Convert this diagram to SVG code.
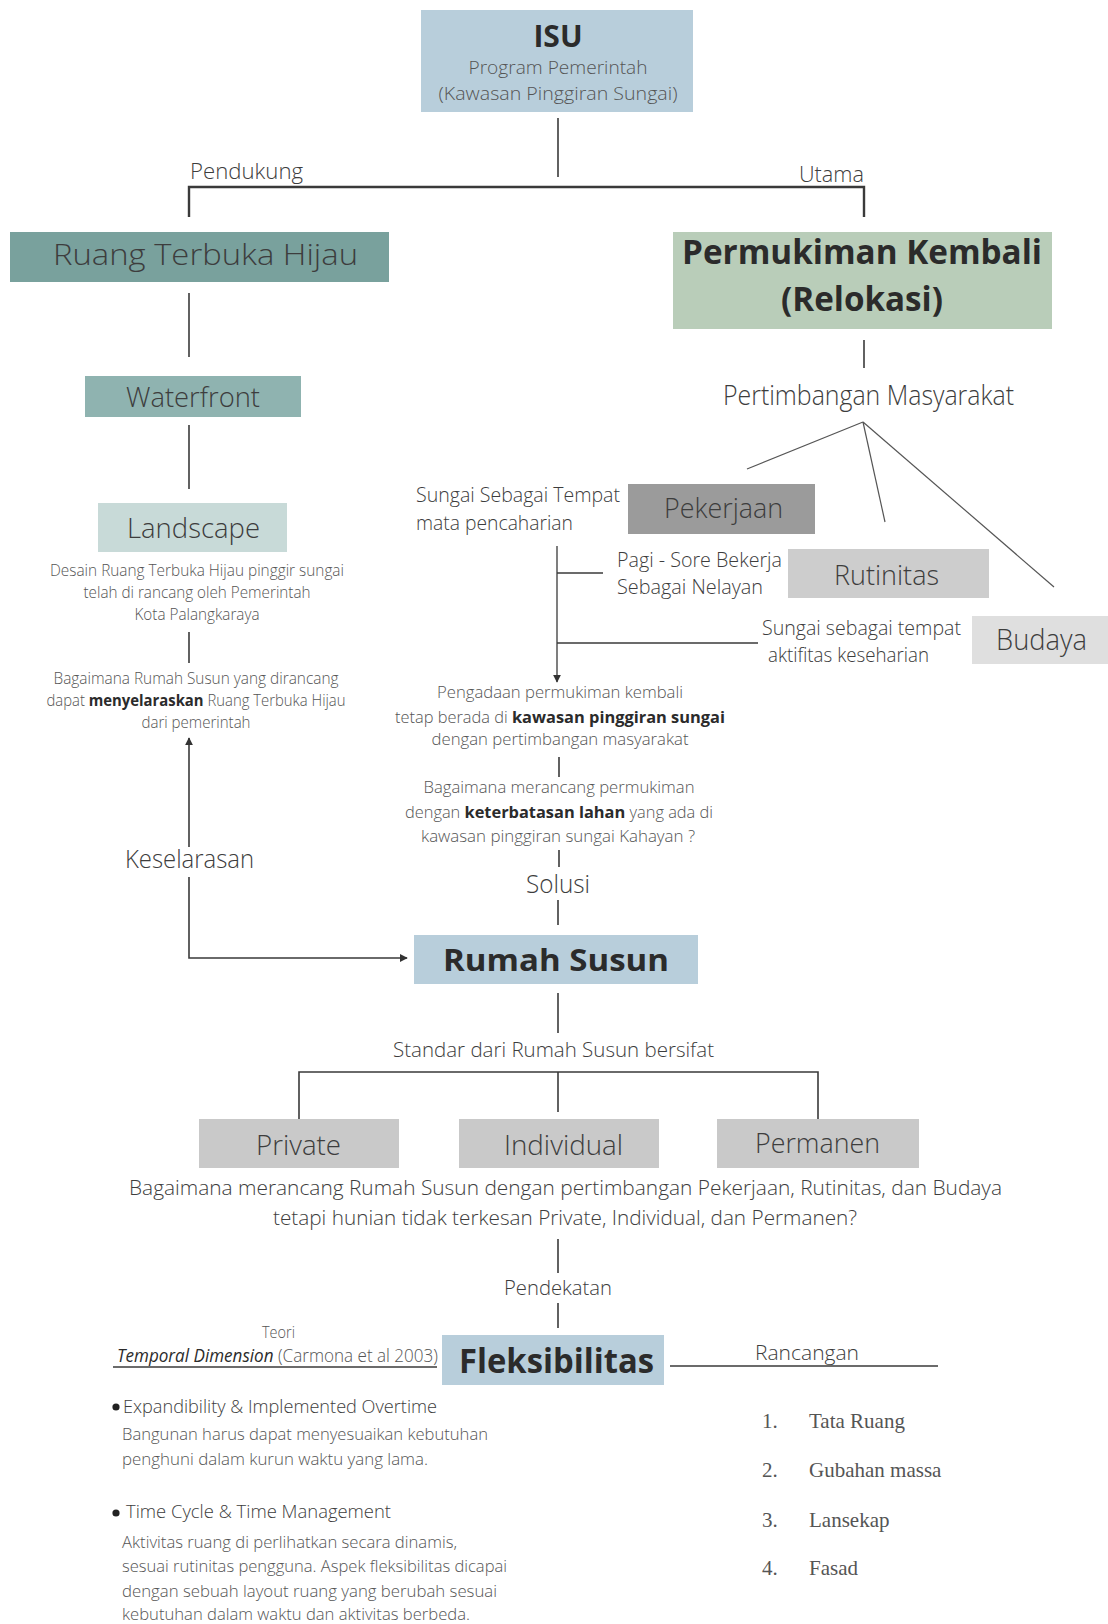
<svg xmlns="http://www.w3.org/2000/svg" width="1108" height="1624" viewBox="0 0 1108 1624">
<style>
.t{font-family:"Open Sans","Noto Sans",sans-serif;font-weight:300;fill:#3d3d3d}
.s{font-family:"Open Sans","Noto Sans",sans-serif;font-weight:300;fill:#555}
.b{font-family:"Open Sans","Noto Sans",sans-serif;font-weight:700;fill:#2b2b2b}
.m{text-anchor:middle}
.r{font-family:"Liberation Serif","Times New Roman",serif;fill:#555;font-size:21px}
.ln{stroke:#3a3a3a;stroke-width:1.6;fill:none}
.thin{stroke:#555;stroke-width:1.2;fill:none}
.blue{fill:#b8cedb}
.grey{fill:#c9c9c9}
</style>
<defs>
<marker id="ah" viewBox="0 0 10 10" refX="9" refY="5" markerWidth="8" markerHeight="8" markerUnits="userSpaceOnUse" orient="auto">
<path d="M0,0 L10,5 L0,10 Z" fill="#333"/>
</marker>
</defs>

<g id="connectors">
<line class="ln" x1="558" y1="118" x2="558" y2="177"/>
<polyline class="ln" style="stroke-width:2.4" points="189,217 189,187 864,187 864,217"/>
<line class="ln" x1="189" y1="293" x2="189" y2="357"/>
<line class="ln" x1="189" y1="425" x2="189" y2="489"/>
<line class="ln" x1="189" y1="632" x2="189" y2="663"/>
<path class="ln" d="M189,847 V738" marker-end="url(#ah)"/>
<path class="ln" d="M189,877 V958 H407" marker-end="url(#ah)"/>
<line class="ln" x1="864" y1="340" x2="864" y2="368"/>
<line class="thin" x1="863" y1="422" x2="747" y2="469"/>
<line class="thin" x1="863" y1="422" x2="885" y2="522"/>
<line class="thin" x1="863" y1="422" x2="1054" y2="587"/>
<path class="ln" style="stroke-width:1.3" d="M557,546 V682" marker-end="url(#ah)"/>
<line class="ln" style="stroke-width:1.3" x1="557" y1="573" x2="603" y2="573"/>
<line class="ln" style="stroke-width:1.3" x1="557" y1="643" x2="758" y2="643"/>
<line class="ln" x1="559" y1="757" x2="559" y2="777"/>
<line class="ln" x1="559" y1="850" x2="559" y2="867"/>
<line class="ln" x1="558" y1="900" x2="558" y2="925"/>
<line class="ln" x1="558" y1="993" x2="558" y2="1033"/>
<polyline class="ln" points="299,1119 299,1072 818,1072 818,1119"/>
<line class="ln" x1="558" y1="1072" x2="558" y2="1112"/>
<line class="ln" x1="558" y1="1239" x2="558" y2="1273"/>
<line class="ln" x1="558" y1="1303" x2="558" y2="1328"/>
<line class="ln" x1="113" y1="1367" x2="437" y2="1367"/>
<line class="ln" x1="670" y1="1366" x2="938" y2="1366"/>
</g>

<g id="isu">
<rect class="blue" x="421" y="10" width="272" height="102"/>
<text class="b m" x="558" y="47" font-size="30">ISU</text>
<text class="s m" x="558" y="73.5" font-size="18.5" textLength="179" lengthAdjust="spacingAndGlyphs">Program Pemerintah</text>
<text class="s m" x="558" y="100" font-size="18.5" textLength="239" lengthAdjust="spacingAndGlyphs">(Kawasan Pinggiran Sungai)</text>
</g>

<g id="lbl-pendukung"><text class="t" x="190" y="179" font-size="22" textLength="113" lengthAdjust="spacingAndGlyphs">Pendukung</text></g>
<g id="lbl-utama"><text class="t" x="799" y="182" font-size="22" textLength="65" lengthAdjust="spacingAndGlyphs">Utama</text></g>

<g id="rth">
<rect x="10" y="232" width="379" height="50" fill="#79a19d"/>
<text class="t" x="53" y="265" font-size="30" textLength="305" lengthAdjust="spacingAndGlyphs">Ruang Terbuka Hijau</text>
</g>

<g id="permukiman">
<rect x="673" y="232" width="379" height="97" fill="#b9cdb9"/>
<text class="b m" x="862" y="264" font-size="34" textLength="360" lengthAdjust="spacingAndGlyphs">Permukiman Kembali</text>
<text class="b m" x="862" y="311" font-size="34" textLength="162" lengthAdjust="spacingAndGlyphs">(Relokasi)</text>
</g>

<g id="waterfront">
<rect x="85" y="376" width="216" height="41" fill="#8fb3b0"/>
<text class="t" x="126" y="407" font-size="27" textLength="134" lengthAdjust="spacingAndGlyphs">Waterfront</text>
</g>

<g id="landscape">
<rect x="98" y="503" width="189" height="49" fill="#c8dad8"/>
<text class="t" x="127" y="538" font-size="28" textLength="133" lengthAdjust="spacingAndGlyphs">Landscape</text>
</g>

<g id="desain">
<text class="s m" x="197" y="576" font-size="16.5" textLength="294" lengthAdjust="spacingAndGlyphs">Desain Ruang Terbuka Hijau pinggir sungai</text>
<text class="s m" x="197" y="598" font-size="16.5" textLength="227" lengthAdjust="spacingAndGlyphs">telah di rancang oleh Pemerintah</text>
<text class="s m" x="197" y="620" font-size="16.5" textLength="125" lengthAdjust="spacingAndGlyphs">Kota Palangkaraya</text>
</g>

<g id="q-rth">
<text class="s m" x="196" y="684" font-size="16" textLength="285" lengthAdjust="spacingAndGlyphs">Bagaimana Rumah Susun yang dirancang</text>
<text class="s m" x="196" y="706" font-size="16" textLength="299" lengthAdjust="spacingAndGlyphs">dapat <tspan class="b" style="fill:#2b2b2b">menyelaraskan</tspan> Ruang Terbuka Hijau</text>
<text class="s m" x="196" y="728" font-size="16" textLength="109" lengthAdjust="spacingAndGlyphs">dari pemerintah</text>
</g>

<g id="pertimbangan">
<text class="t" x="723" y="405" font-size="27" textLength="291" lengthAdjust="spacingAndGlyphs">Pertimbangan Masyarakat</text>
</g>

<g id="pekerjaan">
<rect x="628" y="484" width="187" height="50" fill="#9b9b9b"/>
<text class="t" x="664" y="518" font-size="28" textLength="119" lengthAdjust="spacingAndGlyphs">Pekerjaan</text>
<text class="t" x="416" y="502" font-size="20" textLength="204" lengthAdjust="spacingAndGlyphs">Sungai Sebagai Tempat</text>
<text class="t" x="416" y="530" font-size="20" textLength="157" lengthAdjust="spacingAndGlyphs">mata pencaharian</text>
</g>

<g id="rutinitas">
<rect x="788" y="549" width="201" height="49" fill="#cdcdcd"/>
<text class="t" x="834" y="585" font-size="28" textLength="105" lengthAdjust="spacingAndGlyphs">Rutinitas</text>
<text class="t" x="617" y="567" font-size="20" textLength="165" lengthAdjust="spacingAndGlyphs">Pagi - Sore Bekerja</text>
<text class="t" x="617" y="594" font-size="20" textLength="146" lengthAdjust="spacingAndGlyphs">Sebagai Nelayan</text>
</g>

<g id="budaya">
<rect x="972" y="616" width="136" height="48" fill="#dfdfdf"/>
<text class="t" x="996" y="650" font-size="30" textLength="91" lengthAdjust="spacingAndGlyphs">Budaya</text>
<text class="t" x="762" y="635" font-size="20" textLength="199" lengthAdjust="spacingAndGlyphs">Sungai sebagai tempat</text>
<text class="t" x="768" y="662" font-size="20" textLength="161" lengthAdjust="spacingAndGlyphs">aktifitas keseharian</text>
</g>

<g id="pengadaan">
<text class="s m" x="560" y="698" font-size="16.5" textLength="246" lengthAdjust="spacingAndGlyphs">Pengadaan permukiman kembali</text>
<text class="s m" x="560" y="723" font-size="16.5" textLength="330" lengthAdjust="spacingAndGlyphs">tetap berada di <tspan class="b" style="fill:#2b2b2b">kawasan pinggiran sungai</tspan></text>
<text class="s m" x="560" y="745" font-size="16.5" textLength="257" lengthAdjust="spacingAndGlyphs">dengan pertimbangan masyarakat</text>
</g>

<g id="q-lahan">
<text class="s m" x="559" y="793" font-size="16.5" textLength="271" lengthAdjust="spacingAndGlyphs">Bagaimana merancang permukiman</text>
<text class="s m" x="559" y="818" font-size="16.5" textLength="308" lengthAdjust="spacingAndGlyphs">dengan <tspan class="b" style="fill:#2b2b2b">keterbatasan lahan</tspan> yang ada di</text>
<text class="s m" x="558" y="842" font-size="16.5" textLength="274" lengthAdjust="spacingAndGlyphs">kawasan pinggiran sungai Kahayan ?</text>
</g>

<g id="lbl-keselarasan"><text class="t" x="125" y="868" font-size="26" textLength="129" lengthAdjust="spacingAndGlyphs">Keselarasan</text></g>
<g id="lbl-solusi"><text class="t" x="526" y="893" font-size="26" textLength="64" lengthAdjust="spacingAndGlyphs">Solusi</text></g>

<g id="rumah-susun">
<rect class="blue" x="414" y="935" width="284" height="49"/>
<text class="b" x="443" y="971" font-size="31" textLength="226" lengthAdjust="spacingAndGlyphs">Rumah Susun</text>
</g>

<g id="standar"><text class="t" x="393" y="1057" font-size="21" textLength="321" lengthAdjust="spacingAndGlyphs">Standar dari Rumah Susun bersifat</text></g>

<g id="private">
<rect class="grey" x="199" y="1119" width="200" height="49"/>
<text class="t" x="256" y="1155" font-size="28" textLength="85" lengthAdjust="spacingAndGlyphs">Private</text>
</g>
<g id="individual">
<rect class="grey" x="459" y="1119" width="200" height="49"/>
<text class="t" x="504" y="1155" font-size="28" textLength="119" lengthAdjust="spacingAndGlyphs">Individual</text>
</g>
<g id="permanen">
<rect class="grey" x="717" y="1119" width="202" height="49"/>
<text class="t" x="755" y="1153" font-size="28" textLength="125" lengthAdjust="spacingAndGlyphs">Permanen</text>
</g>

<g id="q-main">
<text class="t" x="129" y="1195" font-size="21" textLength="873" lengthAdjust="spacingAndGlyphs">Bagaimana merancang Rumah Susun dengan pertimbangan Pekerjaan, Rutinitas, dan Budaya</text>
<text class="t" x="273" y="1225" font-size="21" textLength="584" lengthAdjust="spacingAndGlyphs">tetapi hunian tidak terkesan Private, Individual, dan Permanen?</text>
</g>

<g id="lbl-pendekatan"><text class="t" x="504" y="1295" font-size="21" textLength="108" lengthAdjust="spacingAndGlyphs">Pendekatan</text></g>

<g id="teori">
<text class="s" x="262" y="1338" font-size="17" textLength="33" lengthAdjust="spacingAndGlyphs">Teori</text>
<text class="s" x="117" y="1362" font-size="17.5" textLength="321" lengthAdjust="spacingAndGlyphs"><tspan font-style="italic" style="font-weight:400;fill:#2b2b2b">Temporal Dimension</tspan> (Carmona et al 2003)</text>
</g>

<g id="fleksibilitas">
<rect class="blue" x="442" y="1335" width="222" height="50"/>
<text class="b" x="459" y="1373" font-size="34" textLength="195" lengthAdjust="spacingAndGlyphs">Fleksibilitas</text>
</g>

<g id="lbl-rancangan"><text class="t" x="755" y="1360" font-size="20" textLength="104" lengthAdjust="spacingAndGlyphs">Rancangan</text></g>

<g id="teori-list">
<circle cx="116" cy="1407" r="3.6" fill="#222"/>
<text class="t" x="123" y="1413" font-size="19" textLength="314" lengthAdjust="spacingAndGlyphs">Expandibility &amp; Implemented Overtime</text>
<text class="s" x="122" y="1440" font-size="17" textLength="366" lengthAdjust="spacingAndGlyphs">Bangunan harus dapat menyesuaikan kebutuhan</text>
<text class="s" x="122" y="1465" font-size="17" textLength="306" lengthAdjust="spacingAndGlyphs">penghuni dalam kurun waktu yang lama.</text>
<circle cx="116" cy="1513" r="3.6" fill="#222"/>
<text class="t" x="126" y="1518" font-size="19" textLength="265" lengthAdjust="spacingAndGlyphs">Time Cycle &amp; Time Management</text>
<text class="s" x="122" y="1548" font-size="17" textLength="335" lengthAdjust="spacingAndGlyphs">Aktivitas ruang di perlihatkan secara dinamis,</text>
<text class="s" x="122" y="1572" font-size="17" textLength="385" lengthAdjust="spacingAndGlyphs">sesuai rutinitas pengguna. Aspek fleksibilitas dicapai</text>
<text class="s" x="122" y="1597" font-size="17" textLength="375" lengthAdjust="spacingAndGlyphs">dengan sebuah layout ruang yang berubah sesuai</text>
<text class="s" x="122" y="1620" font-size="17" textLength="348" lengthAdjust="spacingAndGlyphs">kebutuhan dalam waktu dan aktivitas berbeda.</text>
</g>

<g id="rancangan-list">
<text class="r" x="762" y="1428">1.</text><text class="r" x="809" y="1428">Tata Ruang</text>
<text class="r" x="762" y="1477">2.</text><text class="r" x="809" y="1477">Gubahan massa</text>
<text class="r" x="762" y="1527">3.</text><text class="r" x="809" y="1527">Lansekap</text>
<text class="r" x="762" y="1575">4.</text><text class="r" x="809" y="1575">Fasad</text>
</g>
</svg>
